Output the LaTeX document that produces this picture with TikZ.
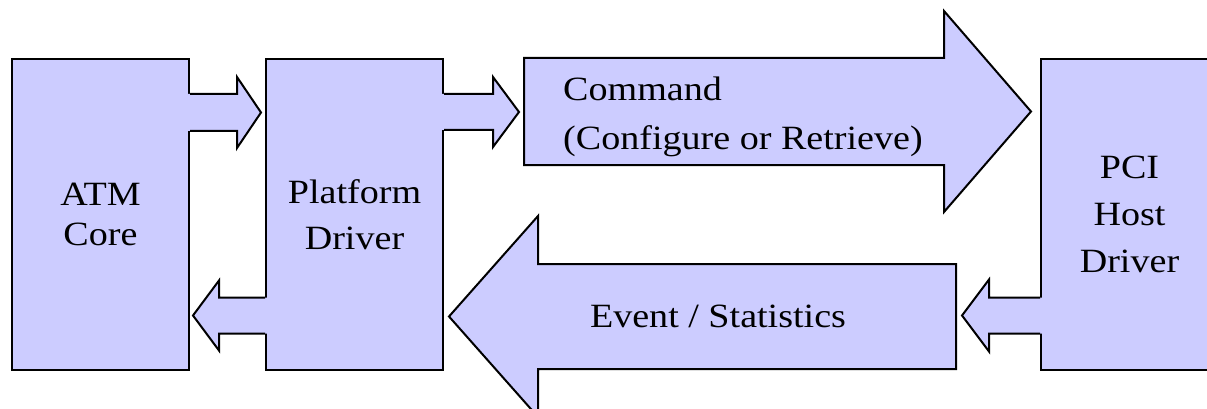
\documentclass[tikz,border=0pt]{standalone}
\usepackage{fontspec}
\setmainfont[FakeStretch=1.12]{Liberation Serif}
\usetikzlibrary{calc}

\definecolor{blockfill}{HTML}{CCCCFF}

\tikzset{
  edgeline/.style={draw=black, line width=2pt, line join=miter},
  blockbox/.style={edgeline, fill=blockfill, rectangle, inner sep=0pt,
    minimum width=177pt, minimum height=311pt, align=center},
  labeltext/.style={inner sep=0pt, font=\fontsize{34}{40}\selectfont},
}

% Block arrow whose shaft grows out of a box edge (no stroke on that end).
% #1 shaft start (centre), #2 tip, #3 shaft half height, #4 head half height,
% #5 signed head length (positive = pointing right)
\newcommand\openblockarrow[5]{%
  \fill[blockfill] ($(#1)+({-3*sign(#5)},{-(#3)})$) -- ($(#2)+({-(#5)},{-(#3)})$)
    -- ($(#2)+({-(#5)},{-(#4)})$) -- (#2) -- ($(#2)+({-(#5)},{#4})$)
    -- ($(#2)+({-(#5)},{#3})$) -- ($(#1)+({-3*sign(#5)},{#3})$) -- cycle;
  \draw[edgeline] ($(#1)+(0,{-(#3)})$) -- ($(#2)+({-(#5)},{-(#3)})$)
    -- ($(#2)+({-(#5)},{-(#4)})$) -- (#2) -- ($(#2)+({-(#5)},{#4})$)
    -- ($(#2)+({-(#5)},{#3})$) -- ($(#1)+(0,{#3})$);
}
% Free-standing block arrow with a closed outline.
\newcommand\closedblockarrow[5]{%
  \filldraw[edgeline, fill=blockfill] ($(#1)+(0,{-(#3)})$) -- ($(#2)+({-(#5)},{-(#3)})$)
    -- ($(#2)+({-(#5)},{-(#4)})$) -- (#2) -- ($(#2)+({-(#5)},{#4})$)
    -- ($(#2)+({-(#5)},{#3})$) -- ($(#1)+(0,{#3})$) -- cycle;
}

\begin{document}
\begin{tikzpicture}[x=1pt, y=-1pt]
  \useasboundingbox (0,0) rectangle (1207,409);
  \clip (0,0) rectangle (1207,409);

  % the three driver blocks
  \node[blockbox, labeltext, font=\fontsize{34}{39.5}\selectfont] (atm) at (100.5,214.5) {ATM\\Core};
  \node[blockbox, labeltext, font=\fontsize{34}{45.5}\selectfont] (plat) at (354.5,214.5) {Platform\\Driver};
  \node[blockbox, labeltext, font=\fontsize{34}{47}\selectfont] (pci) at (1129.5,214.5) {PCI\\Host\\Driver};

  % small connectors between the blocks
  \coordinate (a1s) at ($(atm.north east)+(0,54.5)$);
  \coordinate (a1t) at ($(plat.north west)+(-4,54.5)$);
  \openblockarrow{a1s}{a1t}{18.5}{35.5}{24}

  \coordinate (a3s) at ($(plat.south west)+(0,-55.5)$);
  \coordinate (a3t) at ($(atm.south east)+(3,-55.5)$);
  \openblockarrow{a3s}{a3t}{18}{35}{-26}

  % command path: platform driver to PCI host driver
  \coordinate (cmds) at ($(plat.north east)+(80,53.5)$);
  \coordinate (cmdt) at ($(pci.north west)+(-9,53.5)$);
  \closedblockarrow{cmds}{cmdt}{53.5}{100.5}{87}

  \coordinate (a2s) at ($(plat.north east)+(0,54)$);
  \coordinate (a2t) at ($(cmds)+(-5,0.5)$);
  \openblockarrow{a2s}{a2t}{18}{35}{26}

  % event path: PCI host driver back to platform driver
  \coordinate (evts) at ($(pci.south west)+(-84,-54.5)$);
  \coordinate (evtt) at ($(plat.south east)+(5,-54.5)$);
  \closedblockarrow{evts}{evtt}{52.5}{100.5}{-89}

  \coordinate (a4s) at ($(pci.south west)+(0,-55.5)$);
  \coordinate (a4t) at ($(evts)+(6,-1)$);
  \openblockarrow{a4s}{a4t}{18}{36}{-27}

  % labels on the wide arrows
  \node[labeltext, align=left, anchor=north west, font=\fontsize{34}{49}\selectfont]
    (cmd) at (563,77) {Command\\(Configure or Retrieve)};
  \node[labeltext, anchor=base] (evt) at (718,327) {Event / Statistics};
\end{tikzpicture}
\end{document}
